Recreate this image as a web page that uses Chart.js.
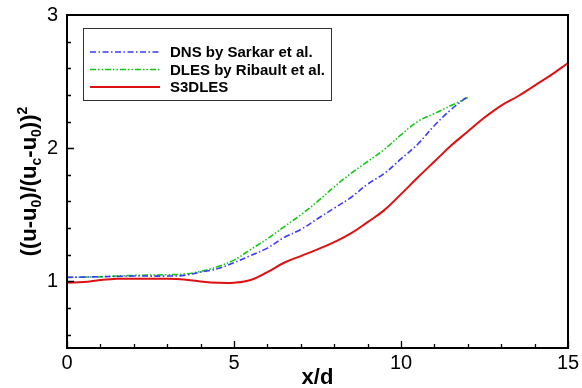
<!DOCTYPE html>
<html>
<head>
<meta charset="utf-8">
<script src="https://cdn.jsdelivr.net/npm/chart.js@4.4.0/dist/chart.umd.min.js"></script>
<style>
  body { margin: 0; background: #fff; }
  canvas { display: block; }
</style>
</head>
<body>
<canvas id="myChart" width="582" height="388"></canvas>
<script>
// values
const xDns = [0, 1, 2, 3, 3.5, 4, 4.5, 5, 5.5, 6, 6.5, 7, 7.5, 8, 8.5, 9, 9.5, 10, 10.5, 11, 11.5, 12];
const yDns = [1.03, 1.035, 1.04, 1.04, 1.045, 1.07, 1.095, 1.14, 1.195, 1.25, 1.33, 1.39, 1.47, 1.55, 1.63, 1.73, 1.81, 1.92, 2.03, 2.17, 2.29, 2.39];

const xDles = [0, 1, 2, 3, 3.5, 4, 4.5, 5, 5.5, 6, 6.5, 7, 7.5, 8, 8.5, 9, 9.5, 10, 10.5, 11, 11.5, 12];
const yDles = [1.03, 1.035, 1.045, 1.05, 1.055, 1.075, 1.11, 1.16, 1.24, 1.32, 1.41, 1.50, 1.60, 1.71, 1.81, 1.90, 1.99, 2.10, 2.20, 2.26, 2.32, 2.38];

const xS3d = [0, 0.5, 1, 1.5, 2, 3, 3.5, 4, 4.5, 5, 5.5, 6, 6.5, 7, 7.5, 8, 8.5, 9, 9.5, 10, 10.5, 11, 11.5, 12, 12.5, 13, 13.5, 14, 14.5, 15];
const yS3d = [0.99, 0.995, 1.01, 1.02, 1.02, 1.02, 1.015, 1.0, 0.99, 0.99, 1.01, 1.07, 1.14, 1.19, 1.24, 1.295, 1.36, 1.445, 1.535, 1.655, 1.78, 1.90, 2.02, 2.125, 2.23, 2.32, 2.39, 2.47, 2.55, 2.64];

const seriesNames = ['DNS by Sarkar et al.', 'DLES by Ribault et al.', 'S3DLES'];
const xTicks = [0, 5, 10, 15];
const yTicks = [1, 2, 3];

function pts(xs, ys) {
    return xs.map((x, i) => ({ x: x, y: ys[i] }));
}

const data = {
    datasets: [{
        label: seriesNames[0],
        data: pts(xDns, yDns),
        borderColor: '#3a3aff',
        borderWidth: 1.6,
        borderDash: [6, 2.5, 1.5, 2.5]
    }, {
        label: seriesNames[1],
        data: pts(xDles, yDles),
        borderColor: '#12c812',
        borderWidth: 1.6,
        borderDash: [6, 2, 1.5, 2, 1.5, 2]
    }, {
        label: seriesNames[2],
        data: pts(xS3d, yS3d),
        borderColor: '#dd1111',
        borderWidth: 2
    }]
};

// frame, inward ticks, legend box, axis titles
const decor = {
    id: 'decor',
    afterDraw(chart) {
        const ctx = chart.ctx;
        const a = chart.chartArea;
        const xs = chart.scales.x, ys = chart.scales.y;
        ctx.save();
        ctx.strokeStyle = '#000';
        ctx.lineWidth = 1.3;
        ctx.beginPath();
        for (let v = 0; v <= 15; v++) {
            const px = Math.round(xs.getPixelForValue(v)) + 0.5;
            const len = v % 5 === 0 ? 7 : 4;
            ctx.moveTo(px, a.bottom);
            ctx.lineTo(px, a.bottom - len);
        }
        for (let k = 3; k <= 14; k++) {
            const v = k * 0.2;
            const py = Math.round(ys.getPixelForValue(v)) + 0.5;
            const major = Math.abs(v - Math.round(v)) < 1e-6;
            ctx.moveTo(a.left, py);
            ctx.lineTo(a.left + (major ? 7 : 4), py);
        }
        ctx.stroke();

        ctx.lineWidth = 2;
        ctx.strokeRect(a.left, a.top, a.right - a.left, a.bottom - a.top);

        // legend
        const lx = 83, ly = 28, lw = 248, lh = 72;
        ctx.lineWidth = 1;
        ctx.strokeStyle = '#333';
        ctx.strokeRect(lx + 0.5, ly + 0.5, lw, lh);
        ctx.font = 'bold 15px "Liberation Sans", Arial, sans-serif';
        ctx.textBaseline = 'middle';
        ctx.textAlign = 'left';
        chart.data.datasets.forEach((ds, i) => {
            const y = 52 + i * 17.5;
            ctx.strokeStyle = ds.borderColor;
            ctx.lineWidth = ds.borderWidth;
            ctx.setLineDash(ds.borderDash || []);
            ctx.beginPath();
            ctx.moveTo(90, y);
            ctx.lineTo(160, y);
            ctx.stroke();
            ctx.setLineDash([]);
            ctx.fillStyle = '#000';
            ctx.fillText(ds.label, 170, y + 1);
        });

        // x title
        ctx.fillStyle = '#000';
        ctx.font = 'bold 22px "Liberation Sans", Arial, sans-serif';
        ctx.textAlign = 'center';
        ctx.textBaseline = 'alphabetic';
        ctx.fillText('x/d', (a.left + a.right) / 2, 384);

        // y title with sub/superscripts
        const parts = [
            ['((u-u', 0], ['0', 1], [')/(u', 0], ['c', 1], ['-u', 0], ['0', 1], ['))', 0], ['2', -1]
        ];
        const big = 'bold 22px "Liberation Sans", Arial, sans-serif';
        const small = 'bold 14px "Liberation Sans", Arial, sans-serif';
        let total = 0;
        parts.forEach(p => {
            ctx.font = p[1] === 0 ? big : small;
            total += ctx.measureText(p[0]).width;
        });
        ctx.translate(36, (a.top + a.bottom) / 2);
        ctx.rotate(-Math.PI / 2);
        ctx.textAlign = 'left';
        let cx = -total / 2;
        parts.forEach(p => {
            ctx.font = p[1] === 0 ? big : small;
            const dy = p[1] === 1 ? 5 : (p[1] === -1 ? -9 : 0);
            ctx.fillText(p[0], cx, dy);
            cx += ctx.measureText(p[0]).width;
        });
        ctx.restore();
    }
};

const config = {
    type: 'line',
    data: data,
    options: {
        responsive: false,
        animation: false,
        devicePixelRatio: 1,
        layout: { padding: { left: 0, right: 14, top: 15, bottom: 0 } },
        elements: {
            point: { radius: 0 },
            line: { tension: 0.4, fill: false }
        },
        plugins: {
            legend: { display: false },
            tooltip: { enabled: false }
        },
        scales: {
            x: {
                type: 'linear',
                min: 0,
                max: 15,
                afterBuildTicks: s => { s.ticks = xTicks.map(v => ({ value: v })); },
                afterFit: s => {
                    s.height = 40;
                    s.paddingLeft = 0; s.paddingRight = 0;
                },
                ticks: {
                    color: '#000',
                    padding: 3,
                    maxRotation: 0,
                    font: { family: '"Liberation Sans", Arial, sans-serif', size: 20 }
                },
                grid: { display: false, drawTicks: false },
                border: { display: false }
            },
            y: {
                type: 'linear',
                min: 0.5,
                max: 3,
                afterBuildTicks: s => { s.ticks = yTicks.map(v => ({ value: v })); },
                afterFit: s => {
                    s.width = 67;
                    s.paddingTop = 0; s.paddingBottom = 0;
                },
                ticks: {
                    color: '#000',
                    padding: 9,
                    font: { family: '"Liberation Sans", Arial, sans-serif', size: 20 }
                },
                grid: { display: false, drawTicks: false },
                border: { display: false }
            }
        }
    },
    plugins: [decor]
};

const myChart = new Chart(document.getElementById('myChart'), config);
</script>
</body>
</html>
